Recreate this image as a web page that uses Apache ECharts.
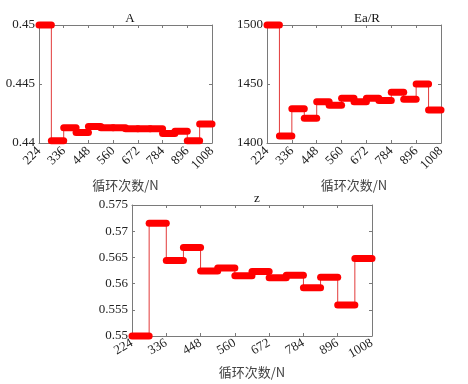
<!DOCTYPE html>
<html>
<head>
<meta charset="utf-8">
<script src="https://cdn.jsdelivr.net/npm/echarts@6/dist/echarts.min.js"></script>
<style>
  html, body { margin: 0; padding: 0; background: #fff; }
  #chart { width: 468px; height: 384px; }
</style>
</head>
<body>
<div id="chart"></div>
<script>
// step start positions (cycle counts), each step 56 wide
const cycles = [224, 280, 336, 392, 448, 504, 560, 616, 672, 728, 784, 840, 896, 952]
const stepWidth = 56
const xTicks = [224, 336, 448, 560, 672, 784, 896, 1008]

const aValues = [0.45, 0.4402, 0.4413, 0.4409, 0.4414, 0.4413, 0.4413, 0.4412, 0.4412, 0.4412, 0.4408, 0.4410, 0.4402, 0.4416]
const eaValues = [1500, 1406, 1429, 1421, 1435, 1432, 1438, 1435, 1438, 1436, 1443, 1437, 1450, 1428]
const zValues = [0.55, 0.5715, 0.5644, 0.5669, 0.5624, 0.5630, 0.5615, 0.5623, 0.5611, 0.5616, 0.5592, 0.5612, 0.5559, 0.5648]

const panels = [
  { title: 'A', values: aValues, min: 0.44, max: 0.45, interval: 0.005, grid: { left: 39, top: 25, width: 173, height: 118 }, rotate: 45, titleX: 125, titleY: 7 },
  { title: 'Ea/R', values: eaValues, min: 1400, max: 1500, interval: 50, grid: { left: 267, top: 25, width: 174, height: 118 }, rotate: 45, titleX: 362, titleY: 7 },
  { title: 'z', values: zValues, min: 0.55, max: 0.575, interval: 0.005, grid: { left: 132, top: 205, width: 240, height: 131 }, rotate: 30, titleX: 252, titleY: 187 }
]

const serif = '"Liberation Serif", "Times New Roman", serif'
const axisColor = '#7a7a7a'
const red = '#ff0000'

const grids = []
const xAxes = []
const yAxes = []
const series = []
const titles = []

panels.forEach((p, i) => {
  grids.push(p.grid)
  titles.push({
    text: p.title,
    left: p.titleX,
    top: p.titleY,
    textAlign: 'center',
    textStyle: { fontFamily: serif, fontSize: 13, fontWeight: 'normal', color: '#111' }
  })
  const base = {
    gridIndex: i,
    type: 'value',
    axisLine: { show: true, lineStyle: { color: axisColor, width: 1 } },
    axisTick: { show: true, inside: true, length: 3, lineStyle: { color: axisColor } },
    splitLine: { show: false }
  }
  xAxes.push(Object.assign({}, base, {
    min: 224, max: 1008, interval: 112,
    position: 'bottom',
    name: '循环次数/N',
    nameLocation: 'middle',
    nameGap: i === 2 ? 30 : 36,
    nameTextStyle: { fontFamily: '"Noto Sans CJK SC", ' + serif, fontSize: 13, color: '#444' },
    axisLabel: { rotate: p.rotate, margin: 6, fontFamily: serif, fontSize: 13, color: '#222', formatter: v => String(v) }
  }))
  xAxes.push(Object.assign({}, base, {
    min: 224, max: 1008, interval: 112,
    position: 'top',
    axisLabel: { show: false }
  }))
  yAxes.push(Object.assign({}, base, {
    min: p.min, max: p.max, interval: p.interval,
    position: 'left',
    axisLabel: { margin: 4, fontFamily: serif, fontSize: 13, color: '#222', formatter: v => String(+v.toFixed(4)) }
  }))
  yAxes.push(Object.assign({}, base, {
    min: p.min, max: p.max, interval: p.interval,
    position: 'right',
    axisLabel: { show: false }
  }))

  // thin stair line
  const stairData = cycles.map((c, k) => [c, p.values[k]])
  stairData.push([cycles[cycles.length - 1] + stepWidth, p.values[p.values.length - 1]])
  series.push({
    type: 'line',
    xAxisIndex: i * 2,
    yAxisIndex: i * 2,
    step: 'end',
    z: 1,
    data: stairData,
    showSymbol: false,
    lineStyle: { color: '#e23a3a', width: 1 },
    animation: false
  })

  // thick horizontal step segments
  series.push({
    type: 'custom',
    xAxisIndex: i * 2,
    yAxisIndex: i * 2,
    clip: false,
    z: 3,
    data: cycles.map((c, k) => [c, c + stepWidth, p.values[k]]),
    renderItem: (params, api) => {
      const a = api.coord([api.value(0), api.value(2)])
      const b = api.coord([api.value(1), api.value(2)])
      return {
        type: 'line',
        shape: { x1: a[0], y1: a[1], x2: b[0], y2: b[1] },
        style: { stroke: red, fill: null, lineWidth: 7, lineCap: 'round' }
      }
    },
    animation: false
  })
})

const chart = echarts.init(document.getElementById('chart'))
chart.setOption({
  backgroundColor: '#fff',
  title: titles,
  grid: grids,
  xAxis: xAxes,
  yAxis: yAxes,
  series: series
})
</script>
</body>
</html>
